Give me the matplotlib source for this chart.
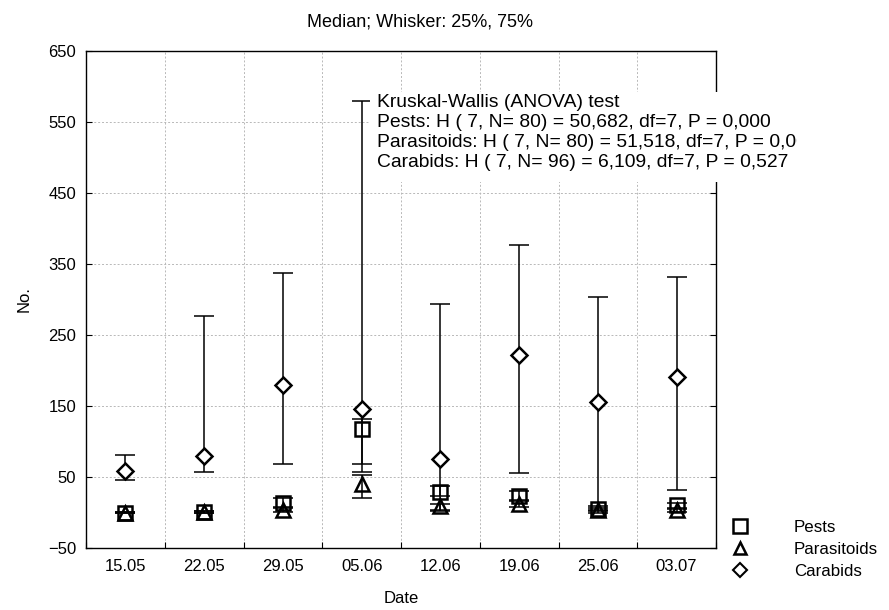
import matplotlib
matplotlib.use("Agg")
import matplotlib.pyplot as plt
from matplotlib.lines import Line2D
from matplotlib.patches import Rectangle
import numpy as np

plt.rcParams['font.family'] = ['Liberation Sans', 'DejaVu Sans']

dates = ['15.05', '22.05', '29.05', '05.06', '12.06', '19.06', '25.06', '03.07']

pests_median = [0, 1, 13, 118, 29, 23, 5, 10]
pests_q25 = [0, 0, 6, 68, 23, 17, 2, 5]
pests_q75 = [1, 2, 20, 131, 37, 30, 9, 14]

paras_median = [0, 1, 4, 40, 9, 12, 3, 4]
paras_q25 = [0, 0, 1, 21, 3, 8, 0, 1]
paras_q75 = [1, 2, 8, 53, 12, 16, 6, 7]

carab_median = [59, 79, 179, 146, 76, 222, 156, 191]
carab_q25 = [46, 57, 68, 57, 2, 55, 4, 31]
carab_q75 = [81, 277, 338, 580, 293, 377, 303, 331]

yticks = [-50, 50, 150, 250, 350, 450, 550, 650]

title = 'Median; Whisker: 25%, 75%'
stats_lines = ['Kruskal-Wallis (ANOVA) test',
               'Pests: H ( 7, N= 80) = 50,682, df=7, P = 0,000',
               'Parasitoids: H ( 7, N= 80) = 51,518, df=7, P = 0,000',
               'Carabids: H ( 7, N= 96) = 6,109, df=7, P = 0,527']

W, H = 889, 610
fig = plt.figure(figsize=(W / 100, H / 100), dpi=100)
ax = fig.add_axes([86 / W, 1 - 548 / H, (716 - 86) / W, (548 - 51) / H])

x = np.arange(len(dates))


def draw(med, q25, q75, marker, ms, face, z):
    med = np.array(med, float)
    lo = med - np.array(q25, float)
    hi = np.array(q75, float) - med
    ax.errorbar(x, med, yerr=[lo, hi], fmt='none', ecolor='black',
                elinewidth=1.1, capsize=7, capthick=1.1, zorder=z)
    ax.plot(x, med, linestyle='none', marker=marker, markersize=ms,
            markerfacecolor=face, markeredgecolor='black',
            markeredgewidth=1.8, zorder=z + 0.5)


draw(pests_median, pests_q25, pests_q75, 's', 10.5, 'none', 3)
draw(paras_median, paras_q25, paras_q75, '^', 9.5, 'none', 3)
draw(carab_median, carab_q25, carab_q75, 'D', 8.5, 'white', 4)

ax.set_xlim(-0.5, len(dates) - 0.5)
ax.set_ylim(-50, 650)
ax.set_yticks(yticks)
ax.set_xticks(np.arange(len(dates) + 1) - 0.5)
ax.set_xticklabels([])
ax.set_xticks(x, minor=True)
ax.set_xticklabels(dates, minor=True, fontsize=12)
ax.tick_params(axis='x', which='major', direction='in', length=4, top=False)
ax.tick_params(axis='x', which='minor', length=0, pad=8)
ax.tick_params(axis='y', direction='in', length=4, right=True, labelsize=12, pad=7)
ax.grid(True, which='major', color='#b8b8b8', linestyle=(0, (2, 2)), linewidth=0.7)
for s in ax.spines.values():
    s.set_linewidth(1.0)
ax.set_axisbelow(True)

ax.set_ylabel('No.', fontsize=12, labelpad=12)
ax.set_xlabel('Date', fontsize=12, labelpad=12)
fig.text(420 / W, 1 - 22 / H, title, ha='center', va='center', fontsize=13)

# statistics box
rect = Rectangle((370 / W, 1 - 182 / H), (797 - 370) / W, (182 - 92) / H,
                 transform=fig.transFigure, facecolor='white', edgecolor='none',
                 zorder=10)
fig.add_artist(rect)
t = fig.text(377 / W, 1 - 94 / H, '\n'.join(stats_lines), ha='left', va='top',
             fontsize=13.9, linespacing=1.23, zorder=11)
t.set_clip_path(rect)

handles = [Line2D([], [], linestyle='none', marker='s', markersize=9.5,
                  markerfacecolor='none', markeredgecolor='black', markeredgewidth=1.8),
           Line2D([], [], linestyle='none', marker='^', markersize=8.5,
                  markerfacecolor='none', markeredgecolor='black', markeredgewidth=1.8),
           Line2D([], [], linestyle='none', marker='D', markersize=7.5,
                  markerfacecolor='white', markeredgecolor='black', markeredgewidth=1.5)]
fig.legend(handles, ['Pests', 'Parasitoids', 'Carabids'], loc='upper left',
           bbox_to_anchor=(716 / W, 1 - 513 / H), frameon=False, fontsize=12.2,
           handletextpad=2.2, labelspacing=0.42, borderaxespad=0)

fig.savefig('out.png', dpi=100)
